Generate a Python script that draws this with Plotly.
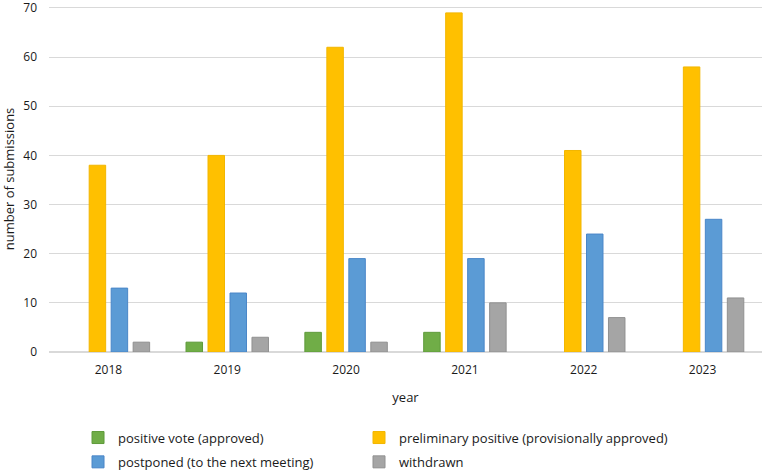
import plotly.graph_objects as go

years = ["2018", "2019", "2020", "2021", "2022", "2023"]
positive_vote = [0, 2, 4, 4, 0, 0]
preliminary_positive = [38, 40, 62, 69, 41, 58]
postponed = [13, 12, 19, 19, 24, 27]
withdrawn = [2, 3, 2, 10, 7, 11]

series = [
    ("positive vote (approved)", positive_vote, "#70AD47", "#5E9A3A", "legend"),
    ("preliminary positive (provisionally approved)", preliminary_positive, "#FFC000", "#F2B600", "legend2"),
    ("postponed (to the next meeting)", postponed, "#5B9BD5", "#4A86C8", "legend3"),
    ("withdrawn", withdrawn, "#A5A5A5", "#909090", "legend4"),
]

fig = go.Figure()
for name, vals, col, lcol, lg in series:
    fig.add_trace(go.Bar(
        x=years, y=[v if v else None for v in vals], name=name, legend=lg,
        marker=dict(color=col, line=dict(color=lcol, width=1)),
    ))

font = dict(family="Open Sans, sans-serif", size=12, color="#1a1a1a")
lfont = dict(family="Open Sans, sans-serif", size=13, color="#1a1a1a")


def leg(x, y):
    return dict(orientation="h", x=x, y=y, xanchor="left", yanchor="top",
                itemwidth=30, font=lfont, bgcolor="rgba(0,0,0,0)")


col1, col2 = 0.0407, 0.4348
row1, row2 = -0.204, -0.2743

fig.update_layout(
    width=762, height=472,
    margin=dict(l=49, r=0, t=6, b=120, autoexpand=False),
    paper_bgcolor="white", plot_bgcolor="white",
    font=font,
    barmode="group", bargap=0.26, bargroupgap=0.25,
    xaxis=dict(title=dict(text="year", standoff=15, font=lfont), showgrid=False, ticks="",
               showline=False, zeroline=False, ticklabelstandoff=9,
               automargin=False),
    yaxis=dict(title=dict(text="number of submissions", standoff=8, font=lfont),
               range=[0, 70.4], tickvals=[0, 10, 20, 30, 40, 50, 60, 70],
               showgrid=True, gridcolor="#D9D9D9",
               gridwidth=1, zeroline=True, zerolinecolor="#D9D9D9", ticks="",
               showline=False, ticklabelstandoff=11, ticklabeloverflow="allow",
               automargin=False),
    legend=leg(col1, row1),
    legend2=leg(col2, row1),
    legend3=leg(col1, row2),
    legend4=leg(col2, row2),
    showlegend=True,
)

fig.write_html("out.html", config={"displayModeBar": False},
               post_script="document.body.style.margin='0';")
